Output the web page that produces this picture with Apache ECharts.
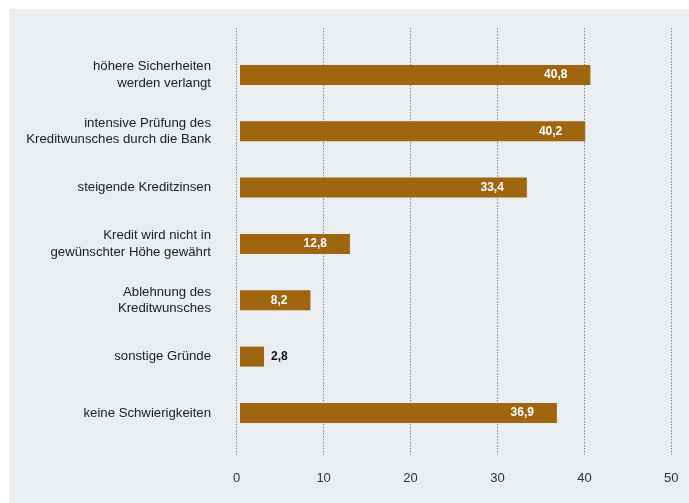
<!DOCTYPE html>
<html>
<head>
<meta charset="utf-8">
<script src="https://cdn.jsdelivr.net/npm/echarts@6/dist/echarts.min.js"></script>
<style>
html,body{margin:0;padding:0;background:#ffffff;width:689px;height:503px;overflow:hidden;}
#chart{position:absolute;left:9px;top:9px;width:680px;height:494px;background:#eaeef1;}
</style>
</head>
<body>
<div id="chart"></div>
<script>
const categories = [
  "höhere Sicherheiten\nwerden verlangt",
  "intensive Prüfung des\nKreditwunsches durch die Bank",
  "steigende Kreditzinsen",
  "Kredit wird nicht in\ngewünschter Höhe gewährt",
  "Ablehnung des\nKreditwunsches",
  "sonstige Gründe",
  "keine Schwierigkeiten"
];
const values = [40.8, 40.2, 33.4, 12.8, 8.2, 2.8, 36.9];
const tickValues = [0, 10, 20, 30, 40, 50];

const fontFamily = '"Liberation Sans", Arial, Helvetica, sans-serif';
const fmt = v => String(v).replace('.', ',');

const barData = values.map(v => {
  if (v < 5) {
    return { value: v, label: { position: 'right', distance: 7, color: '#111111' } };
  }
  return { value: v };
});

const chart = echarts.init(document.getElementById('chart'), null, { renderer: 'canvas' });
chart.setOption({
  animation: false,
  textStyle: { fontFamily: fontFamily },
  grid: [
    { left: 227.7, width: 434.6, top: 19.3, height: 426.7 },
    { left: 227.7, width: 434.6, top: 37.8, height: 394.3 }
  ],
  xAxis: [
    {
      gridIndex: 0, type: 'value', min: tickValues[0], max: tickValues[tickValues.length - 1], interval: 10,
      axisLine: { show: false }, axisTick: { show: false },
      splitLine: { show: true, lineStyle: { color: '#4f575e', width: 1, type: [1, 2] } },
      axisLabel: { margin: 17, fontSize: 13, color: '#333333', fontFamily: fontFamily }
    },
    {
      gridIndex: 1, type: 'value', min: -0.384, max: 50.22, show: false,
      splitLine: { show: false }
    }
  ],
  yAxis: [
    { gridIndex: 0, type: 'category', data: categories, show: false },
    {
      gridIndex: 1, type: 'category', data: categories, inverse: true,
      axisLine: { show: false }, axisTick: { show: false }, splitLine: { show: false },
      axisLabel: { margin: 25.7, fontSize: 13.2, color: '#222222', lineHeight: 16.5, align: 'right', fontFamily: fontFamily }
    }
  ],
  series: [
    {
      type: 'bar', xAxisIndex: 1, yAxisIndex: 1, data: barData, barWidth: 20,
      itemStyle: { color: '#a0660f' },
      label: {
        show: true, position: 'insideRight', distance: 23,
        color: '#ffffff', fontWeight: 'bold', fontSize: 12, fontFamily: fontFamily,
        formatter: p => fmt(p.value)
      }
    }
  ]
});
</script>
</body>
</html>
